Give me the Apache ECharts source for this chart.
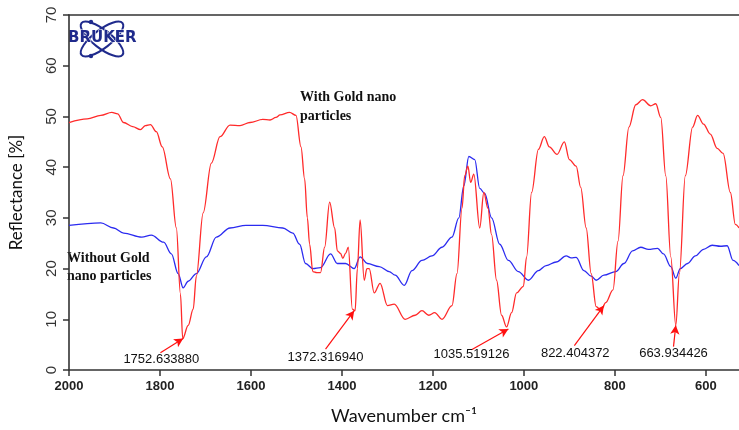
<!DOCTYPE html>
<html>
<head>
<meta charset="utf-8">
<title>Reflectance</title>
<script src="https://cdn.jsdelivr.net/npm/echarts@6/dist/echarts.min.js"></script>
<style>
  html, body { margin: 0; padding: 0; background: #fff; }
  #chart { width: 739px; height: 430px; }
</style>
</head>
<body>
<div id="chart"></div>
<script>
// wavenumber (cm-1) / reflectance (%)
const withGold = [
  [2000, 48.8], [1960, 49.5], [1930, 50.2], [1906, 50.8], [1893, 50.5], [1880, 48.8], [1860, 48.0],
  [1843, 47.4], [1832, 48.2], [1821, 48.4], [1808, 47.0], [1795, 44.0], [1777, 37.7], [1764, 28.0],
  [1755, 15.0], [1750, 6.2], [1738, 8.8], [1727, 12.0], [1720, 18.5], [1705, 31.0], [1687, 40.8],
  [1668, 46.0], [1646, 48.3], [1624, 48.2], [1602, 48.8], [1574, 49.4], [1558, 49.3], [1545, 49.8],
  [1536, 50.3], [1515, 50.8], [1501, 50.2], [1490, 44.0], [1482, 37.7], [1476, 30.0], [1471, 24.8],
  [1464, 19.4], [1455, 19.2], [1447, 19.2], [1438, 24.2], [1427, 33.1], [1416, 28.0], [1410, 23.5],
  [1403, 23.0], [1398, 22.0], [1392, 23.0], [1386, 24.2], [1377, 12.0], [1371, 11.7], [1366, 20.0],
  [1360, 29.6], [1351, 17.7], [1345, 20.0], [1340, 20.0], [1329, 15.2], [1316, 17.1], [1300, 12.7],
  [1285, 13.0], [1261, 10.0], [1239, 10.8], [1224, 11.7], [1209, 10.8], [1196, 11.3], [1180, 10.0],
  [1158, 12.7], [1147, 19.0], [1136, 31.9], [1130, 38.3], [1123, 40.2], [1117, 37.0], [1110, 38.6],
  [1097, 28.0], [1088, 35.0], [1079, 31.9], [1071, 26.7], [1060, 17.7], [1049, 10.8], [1038, 8.5],
  [1027, 11.3], [1016, 15.2], [1001, 16.5], [994, 22.3], [983, 35.0], [968, 43.5], [955, 46.0],
  [944, 44.0], [927, 42.5], [911, 45.0], [900, 41.5], [885, 40.2], [875, 36.0], [863, 28.0],
  [852, 19.0], [841, 12.5], [830, 11.8], [820, 13.3], [804, 15.8], [793, 25.4], [782, 38.3],
  [769, 47.9], [754, 52.3], [739, 53.3], [721, 52.1], [710, 52.5], [699, 49.8], [688, 38.3],
  [677, 22.3], [666, 8.8], [658, 19.0], [645, 38.3], [629, 47.9], [618, 50.2], [605, 48.5],
  [590, 46.5], [575, 43.7], [562, 42.7], [546, 35.0], [535, 28.7], [527, 28.0]
]
const withoutGold = [
  [2000, 28.5], [1930, 29.0], [1902, 28.0], [1880, 27.0], [1840, 26.2], [1819, 26.6], [1792, 25.2],
  [1775, 22.9], [1760, 19.0], [1749, 16.2], [1738, 17.5], [1720, 19.0], [1698, 22.3], [1676, 26.2],
  [1646, 28.0], [1611, 28.5], [1574, 28.5], [1530, 28.0], [1508, 27.0], [1493, 24.8], [1480, 21.0],
  [1464, 20.0], [1447, 20.2], [1425, 22.9], [1410, 21.0], [1392, 21.0], [1373, 20.0], [1360, 22.3],
  [1344, 21.0], [1318, 20.4], [1296, 19.4], [1283, 18.7], [1263, 16.7], [1246, 19.6], [1224, 21.6],
  [1202, 22.5], [1180, 24.2], [1158, 26.2], [1143, 30.0], [1132, 36.3], [1121, 42.1], [1108, 41.5],
  [1097, 35.8], [1086, 34.8], [1071, 30.0], [1053, 24.8], [1034, 21.6], [1012, 19.4], [990, 17.7],
  [968, 19.6], [951, 20.6], [929, 21.3], [907, 22.5], [896, 22.1], [885, 22.2], [868, 19.6],
  [852, 18.5], [841, 17.7], [824, 18.7], [798, 19.4], [780, 21.0], [761, 23.5], [743, 24.2],
  [726, 23.8], [706, 24.0], [693, 22.9], [677, 20.4], [666, 18.1], [656, 20.0], [640, 21.0],
  [623, 22.5], [605, 23.8], [586, 24.6], [568, 24.4], [553, 24.5], [540, 21.6], [527, 20.6]
]
const xTicks = [600, 800, 1000, 1200, 1400, 1600, 1800, 2000]
// peak labels: text, label position, arrow tail, arrow head
const peakNames = ['1752.633880', '1372.316940', '1035.519126', '822.404372', '663.934426']
const peakLabelAt = [[1797, 2.1], [1436, 2.5], [1115, 3.1], [887, 3.3], [671, 3.3]]
const arrowFrom = [[1799, 3.4], [1436, 4.1], [1115, 4.0], [889, 4.8], [671, 4.6]]
const arrowTo = [[1749, 6.2], [1373, 11.7], [1034, 8.1], [824, 12.7], [666, 8.8]]

const red = '#ff2a2a'
const blue = '#2b2bf0'
const navy = '#1f2a8c'

const chart = echarts.init(document.getElementById('chart'))

function createSeries(name, data, color, extra) {
  return Object.assign({
    name: name,
    type: 'line',
    data: data,
    smooth: 0.35,
    smoothMonotone: 'x',
    symbol: 'none',
    lineStyle: { width: 1.3, color: color },
    z: 3,
  }, extra || {})
}

const option = {
  backgroundColor: '#fff',
  animation: false,
  grid: { left: 65, right: 0, top: 15, bottom: 51 },
  xAxis: [
    {
      type: 'value',
      inverse: true,
      min: 527,
      max: 2000,
      name: 'Wavenumber cm\u207B\u00B9',
      nameLocation: 'middle',
      nameGap: 37,
      nameTextStyle: { fontFamily: 'Lato', fontSize: 18, color: '#111' },
      splitLine: { show: false },
      axisLine: { lineStyle: { color: '#333', width: 1.6 } },
      axisTick: { length: 6, customValues: xTicks, lineStyle: { color: '#333', width: 1.5 } },
      axisLabel: {
        customValues: xTicks,
        formatter: v => String(v),
        margin: 10,
        fontFamily: 'Liberation Sans',
        fontWeight: 'bold',
        fontSize: 13,
        color: '#222',
      },
    },
    {
      type: 'value',
      position: 'top',
      inverse: true,
      min: 527,
      max: 2000,
      splitLine: { show: false },
      axisLine: { show: true, lineStyle: { color: '#333', width: 1.6 } },
      axisTick: { show: false },
      axisLabel: { show: false },
    },
  ],
  yAxis: {
    type: 'value',
    min: 0,
    max: 70,
    interval: 10,
    name: 'Reflectance [%]',
    nameLocation: 'middle',
    nameGap: 44,
    nameTextStyle: { fontFamily: 'Lato', fontSize: 17, color: '#111' },
    splitLine: { show: false },
    axisLine: { show: true, lineStyle: { color: '#333', width: 1.6 } },
    axisTick: { show: true, length: 6, lineStyle: { color: '#333', width: 1.5 } },
    axisLabel: { rotate: 90, margin: 10, fontFamily: 'Liberation Sans', fontSize: 15, color: '#333' },
  },
  series: [
    createSeries('Without Gold nano particles', withoutGold, blue),
    createSeries('With Gold nano particles', withGold, red, {
      z: 4,
      markLine: {
        silent: true,
        symbol: ['none', 'arrow'],
        symbolSize: [7, 9],
        label: { show: false },
        lineStyle: { color: '#ff1010', width: 1.2, type: 'solid' },
        data: arrowFrom.map((p, i) => [{ coord: p }, { coord: arrowTo[i] }]),
      },
      markPoint: {
        silent: true,
        symbol: 'circle',
        symbolSize: 0,
        label: {
          show: true,
          position: 'inside',
          formatter: p => p.name,
          fontFamily: 'Liberation Sans',
          fontSize: 13,
          color: '#111',
        },
        data: peakNames.map((n, i) => ({ name: n, coord: peakLabelAt[i] })),
      },
    }),
  ],
  graphic: [
    {
      type: 'text',
      left: 300,
      top: 88,
      style: {
        text: 'With Gold nano\nparticles',
        font: 'bold 14px "Liberation Serif"',
        lineHeight: 19,
        fill: '#111',
      },
    },
    {
      type: 'text',
      left: 67,
      top: 249,
      style: {
        text: 'Without Gold\nnano particles',
        font: 'bold 14px "Liberation Serif"',
        lineHeight: 18,
        fill: '#111',
      },
    },
    // bruker logo
    {
      type: 'group',
      x: 68,
      y: 19,
      children: [
        { type: 'ellipse', shape: { cx: 34, cy: 20, rx: 26, ry: 9 }, rotation: 0.66, originX: 34, originY: 20,
          style: { fill: 'none', stroke: navy, lineWidth: 2 } },
        { type: 'ellipse', shape: { cx: 34, cy: 20, rx: 26, ry: 9 }, rotation: -0.66, originX: 34, originY: 20,
          style: { fill: 'none', stroke: navy, lineWidth: 2 } },
        { type: 'circle', shape: { cx: 23, cy: 3, r: 2.2 }, style: { fill: navy } },
        { type: 'circle', shape: { cx: 23, cy: 37, r: 2.2 }, style: { fill: navy } },
        { type: 'text', x: 0, y: 12,
          style: { text: 'BRUKER', font: 'bold 15px "DejaVu Sans"', fill: navy, stroke: '#fff', lineWidth: 1 } },
      ],
    },
  ],
}

chart.setOption(option)
</script>
</body>
</html>
